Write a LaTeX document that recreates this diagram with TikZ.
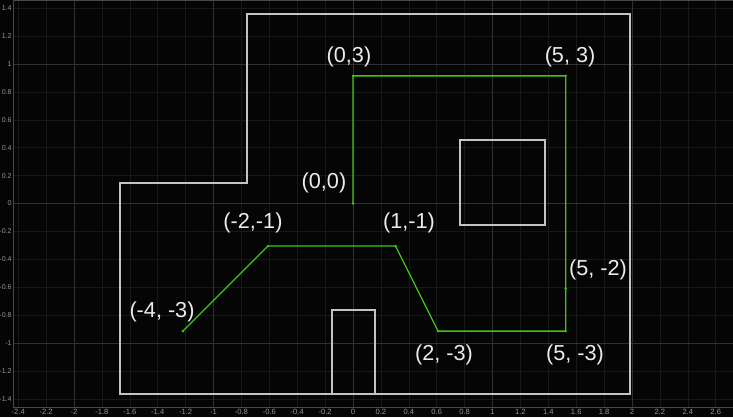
\documentclass[tikz,border=0pt]{standalone}
\usepackage{fontspec}
\setmainfont{Liberation Sans}
\usepackage{tikz}
\definecolor{bgblack}{RGB}{5,5,5}
\definecolor{gridminor}{RGB}{24,24,24}
\definecolor{gridmajor}{RGB}{48,48,48}
\definecolor{axisgray}{RGB}{72,72,72}
\definecolor{tickgray}{RGB}{150,150,150}
\definecolor{wallgray}{RGB}{195,195,195}
\definecolor{routegreen}{RGB}{60,200,20}
\definecolor{labelwhite}{RGB}{235,235,235}

\begin{document}
\begin{tikzpicture}[x=4.185cm,y=4.185cm,
  wall/.style={draw=wallgray, line width=1.0pt},
  route/.style={draw=routegreen, line width=1.1pt},
  coordlabel/.style={text=labelwhite, font=\fontsize{18.5}{20}\selectfont, inner sep=0pt},
  ticklabel/.style={text=tickgray, font=\fontsize{6.5}{7}\selectfont, inner sep=0pt}]
% Background
\fill[bgblack] (-2.5305,-1.5305) rectangle (2.724,1.4588);
\useasboundingbox (-2.5305,-1.5305) rectangle (2.724,1.4588);
% Grid
\foreach \gx in {-2.4,-2.2,...,2.61}
  \draw[gridminor, line width=0.5pt] (\gx,-1.459) -- (\gx,1.4588);
\foreach \gy in {-1.4,-1.2,...,1.41}
  \draw[gridminor, line width=0.5pt] (-2.437,\gy) -- (2.724,\gy);
\foreach \gx in {-2,...,2}
  \draw[gridmajor, line width=0.6pt] (\gx,-1.459) -- (\gx,1.4588);
\foreach \gy in {-1,0,1}
  \draw[gridmajor, line width=0.6pt] (-2.437,\gy) -- (2.724,\gy);
% Axes
\draw[axisgray, line width=0.8pt] (-2.437,1.4588) -- (-2.437,-1.459) -- (2.724,-1.459);
\draw[axisgray, line width=0.8pt] (-2.437,1.455) -- (2.724,1.455);
\foreach \tl in {-2.4,-2.2,-2,-1.8,-1.6,-1.4,-1.2,-1,-0.8,-0.6,-0.4,-0.2,0,0.2,0.4,0.6,0.8,1,1.2,1.4,1.6,1.8,2,2.2,2.4,2.6}
  \node[ticklabel] at (\tl,-1.497) {\tl};
\foreach \tl in {-1.4,-1.2,-1,-0.8,-0.6,-0.4,-0.2,0,0.2,0.4,0.6,0.8,1,1.2,1.4}
  \node[ticklabel, font=\fontsize{6}{7}\selectfont, anchor=east] at (-2.446,\tl) {\tl};
% Room walls
\draw[wall] (-1.670,-1.366) -- (-1.670,0.147) -- (-0.760,0.147) -- (-0.760,1.358)
  -- (1.986,1.358) -- (1.986,-1.366) -- cycle;
% Door
\draw[wall] (-0.151,-1.366) -- (-0.151,-0.763) -- (0.158,-0.763) -- (0.158,-1.366);
% Obstacle
\draw[wall] (0.767,-0.154) rectangle (1.376,0.455);
% Route waypoints
\begin{scope}[scale=0.305]
\coordinate (w00) at (0,0);
\coordinate (w03) at (0,3);
\coordinate (w53) at (5,3);
\coordinate (w5m2) at (5,-2);
\coordinate (w5m3) at (5,-3);
\coordinate (w2m3) at (2,-3);
\coordinate (w1m1) at (1,-1);
\coordinate (wm2m1) at (-2,-1);
\coordinate (wm4m3) at (-4,-3);
\end{scope}
\draw[route] (w00) -- (w03) -- (w53) -- (w5m2) -- (w5m3) -- (w2m3) -- (w1m1) -- (wm2m1) -- (wm4m3);
\foreach \w in {w00,w03,w53,w5m2,w5m3,w2m3,w1m1,wm2m1,wm4m3}
  \fill[routegreen] (\w) circle (0.04cm);
% Labels
\node[coordlabel] (l03) at (-0.029,1.050) {(0,3)};
\node[coordlabel] (l53) at (1.556,1.050) {(5, 3)};
\node[coordlabel] (l00) at (-0.208,0.147) {(0,0)};
\node[coordlabel] (l1m1) at (0.401,-0.140) {(1,-1)};
\node[coordlabel] (lm2m1) at (-0.717,-0.140) {(-2,-1)};
\node[coordlabel] (lm4m3) at (-1.369,-0.778) {(-4, -3)};
\node[coordlabel] (l2m3) at (0.652,-1.086) {(2, -3)};
\node[coordlabel] (l5m3) at (1.591,-1.086) {(5, -3)};
\node[coordlabel] (l5m2) at (1.756,-0.477) {(5, -2)};
\end{tikzpicture}
\end{document}
